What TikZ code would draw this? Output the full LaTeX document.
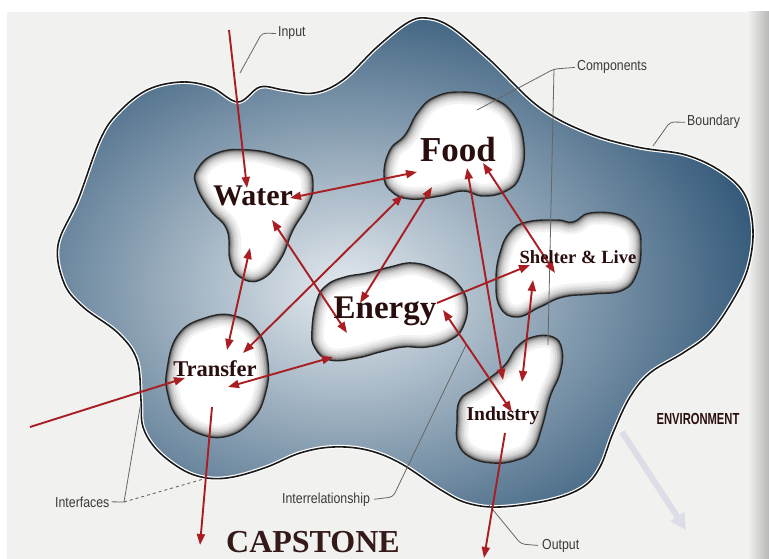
\documentclass[tikz,border=0pt]{standalone}
\usepackage{fontspec}
\setmainfont{Liberation Serif}
\newfontfamily\lblfont[FakeStretch=0.85]{Liberation Sans}
\newfontfamily\envfont[FakeStretch=0.7]{Liberation Sans}
\usetikzlibrary{arrows.meta}
\definecolor{rarrow}{HTML}{A81E22}
\definecolor{bnddark}{HTML}{2C5374}
\definecolor{bndlight}{HTML}{E4EAEF}
\definecolor{pagecol}{HTML}{F1F1EF}
\definecolor{inkdark}{HTML}{2A0E0E}
\definecolor{lblgray}{HTML}{3A3A3A}
\definecolor{leadgray}{HTML}{666666}
\definecolor{faintarrow}{HTML}{DCDDE7}
\tikzset{
  rline/.style={draw=rarrow, line width=1.9pt},
  dlink/.style={rline, {Triangle[length=11pt,width=8pt]}-{Triangle[length=11pt,width=8pt]}},
  slink/.style={rline, -{Triangle[length=11pt,width=8pt]}},
  comp/.style={text=inkdark, anchor=base, inner sep=0pt},
  lbl/.style={font=\lblfont\fontsize{14.5}{16}\selectfont, text=lblgray, anchor=base west, inner sep=0pt},
  lead/.style={draw=leadgray, line width=0.8pt, rounded corners=4pt},
}
\newcommand{\compblob}[1]{%
  \fill[white] plot[smooth cycle, tension=0.75] coordinates {#1};
  \begin{scope}
    \clip plot[smooth cycle, tension=0.75] coordinates {#1};
    \draw[line width=24pt, black!5] plot[smooth cycle, tension=0.75] coordinates {#1};
    \draw[line width=19pt, black!10] plot[smooth cycle, tension=0.75] coordinates {#1};
    \draw[line width=15pt, black!16] plot[smooth cycle, tension=0.75] coordinates {#1};
    \draw[line width=11pt, black!24] plot[smooth cycle, tension=0.75] coordinates {#1};
    \draw[line width=8pt, black!33] plot[smooth cycle, tension=0.75] coordinates {#1};
    \draw[line width=5pt, black!45] plot[smooth cycle, tension=0.75] coordinates {#1};
    \draw[line width=3pt, black!58] plot[smooth cycle, tension=0.75] coordinates {#1};
  \end{scope}
  \draw[line width=1.4pt, black!85] plot[smooth cycle, tension=0.75] coordinates {#1};
}
\newcommand{\bndplot}{plot[smooth cycle, tension=0.6] coordinates {
  (58,245) (78,200) (100,140) (118,113) (147,90) (181,82) (211,87) (238,102)
  (260,87) (284,90) (314,93) (343,80) (377,47) (407,23) (426,18) (451,27)
  (490,60) (539,107) (588,133) (637,147) (686,155) (722,172) (745,195)
  (753,230) (748,268) (733,300) (710,333) (683,353) (650,373) (630,397)
  (613,433) (600,467) (583,487) (550,500) (500,507) (467,503) (441,490)
  (400,463) (367,450) (333,447) (300,453) (267,467) (233,477) (207,478)
  (183,470) (157,450) (143,427) (141,400) (137,360) (118,333) (83,307) (64,283)}}
\begin{document}
\begin{tikzpicture}[x=1pt, y=-1pt]
\useasboundingbox (0,0) rectangle (769,559);
% page
\fill[white] (0,0) rectangle (769,559);
\fill[pagecol] (7,12) rectangle (769,559);
\shade[left color=pagecol, right color=black!28] (748,12) rectangle (769,559);
% faint environment arrow
\coordinate (envA) at (622,432);
\coordinate (envB) at (686,530);
\draw[draw=faintarrow, line width=6pt, -{Triangle[length=16pt,width=16pt]}] (envA) -- (envB);
% boundary
\begin{scope}
  \clip \bndplot;
  \fill[bnddark] (0,0) rectangle (769,559);
  \shade[inner color=bndlight, outer color=bnddark] (345,290) ellipse [x radius=440, y radius=320];
\end{scope}
\draw[white, line width=4pt] \bndplot;
\draw[black!90, line width=1.6pt] \bndplot;
% components
\compblob{(197,170) (217,153) (250,150) (283,157) (307,167) (313,187) (307,207) (293,230) (280,260) (260,280) (240,277) (230,260) (227,230) (210,210) (197,187)}
\compblob{(384,175) (390,150) (405,135) (418,112) (435,97) (462,92) (492,98) (514,115) (524,145) (520,176) (506,191) (483,196) (463,191) (440,196) (410,199) (391,191)}
\compblob{(312,330) (317,300) (327,285) (345,277) (367,273) (390,267) (413,263) (437,270) (457,283) (467,303) (463,327) (450,340) (427,347) (403,347) (380,352) (357,358) (330,360) (315,348)}
\compblob{(496,280) (500,253) (510,232) (527,222) (557,220) (573,222) (590,213) (620,215) (637,227) (641,247) (637,273) (623,290) (593,294) (563,297) (540,307) (517,317) (500,307)}
\compblob{(167,370) (178,335) (205,318) (235,316) (258,332) (268,362) (265,395) (252,420) (228,436) (200,434) (178,418) (168,395)}
\compblob{(457,423) (460,400) (477,387) (503,367) (517,347) (533,337) (553,337) (562,350) (560,373) (550,397) (542,427) (533,450) (517,460) (493,463) (470,457) (458,443)}
% leader lines
\node[lbl] (input) at (278,37) {Input};
\node[lbl] (components) at (577,71) {Components};
\node[lbl] (boundary) at (687,126) {Boundary};
\node[lbl] (interfaces) at (55,507) {Interfaces};
\node[lbl] (interrel) at (282,503) {Interrelationship};
\node[lbl] (output) at (542,549) {Output};
\node[text=inkdark, anchor=base, inner sep=0pt, font=\envfont\bfseries\fontsize{16}{18}\selectfont] (env) at (698,424) {ENVIRONMENT};
\coordinate (inPt) at (240,73);
\coordinate (cJ) at (554,69);
\coordinate (cPt) at (477,110);
\coordinate (cInd) at (548,345);
\coordinate (bPt) at (653,146);
\coordinate (ifJ) at (124,502);
\coordinate (ifA) at (141,402);
\coordinate (ifB) at (207,478);
\coordinate (irPt) at (466,345);
\coordinate (outPt) at (489,505);
\draw[lead] ([xshift=-2pt]input.west) -- (262,33) -- (inPt);
\draw[lead] ([xshift=-2pt]components.west) -- (cJ) -- (cPt);
\draw[draw=leadgray, line width=0.8pt] (cJ) -- (cInd);
\draw[lead] ([xshift=-2pt]boundary.west) -- (670,122) -- (bPt);
\draw[draw=leadgray, line width=0.8pt] ([xshift=2pt]interfaces.east) -- (ifJ) -- (ifA);
\draw[draw=leadgray, line width=0.9pt, dashed] (ifJ) -- (ifB);
\draw[lead] ([xshift=4pt]interrel.east) -- (393,497) -- (irPt);
\draw[lead] ([xshift=-4pt]output.west) -- (521,544) -- (outPt);
% red arrows
\coordinate (inS) at (229,30);   \coordinate (inE) at (247,188);
\coordinate (wfA) at (290,198);  \coordinate (wfB) at (417,172);
\coordinate (wtA) at (250,248);  \coordinate (wtB) at (227,350);
\coordinate (weA) at (272,220);  \coordinate (weB) at (347,333);
\coordinate (tfA) at (243,353);  \coordinate (tfB) at (403,195);
\coordinate (feA) at (432,187);  \coordinate (feB) at (360,303);
\coordinate (fiA) at (467,168);  \coordinate (fiB) at (503,380);
\coordinate (fsA) at (483,163);  \coordinate (fsB) at (555,273);
\coordinate (esA) at (437,303);  \coordinate (esB) at (530,265);
\coordinate (siA) at (533,280);  \coordinate (siB) at (522,382);
\coordinate (eiA) at (443,310);  \coordinate (eiB) at (512,412);
\coordinate (etA) at (333,357);  \coordinate (etB) at (228,387);
\coordinate (ltA) at (30,427);   \coordinate (ltB) at (185,378);
\coordinate (tdA) at (212,407);  \coordinate (tdB) at (200,545);
\coordinate (idA) at (505,433);  \coordinate (idB) at (484,558);
\draw[slink] (inS) -- (inE);
\draw[dlink] (wfA) -- (wfB);
\draw[dlink] (wtA) -- (wtB);
\draw[dlink] (weA) -- (weB);
\draw[dlink] (tfA) -- (tfB);
\draw[dlink] (feA) -- (feB);
\draw[dlink] (fiA) -- (fiB);
\draw[dlink] (fsA) -- (fsB);
\draw[slink] (esA) -- (esB);
\draw[dlink] (siA) -- (siB);
\draw[dlink] (eiA) -- (eiB);
\draw[dlink] (etA) -- (etB);
\draw[slink] (ltA) -- (ltB);
\draw[slink] (tdA) -- (tdB);
\draw[slink] (idA) -- (idB);
% component labels
\node[comp, font=\bfseries\fontsize{35}{40}\selectfont] (food) at (458,162) {Food};
\node[comp, font=\bfseries\fontsize{30}{34}\selectfont] (water) at (253,205) {Water};
\node[comp, font=\bfseries\fontsize{33}{38}\selectfont] (energy) at (385,318) {Energy};
\node[comp, font=\bfseries\fontsize{22.5}{26}\selectfont] (transfer) at (215,376) {Transfer};
\node[comp, font=\bfseries\fontsize{19.6}{23}\selectfont] (industry) at (503,420) {Industry};
\node[comp, font=\bfseries\fontsize{18.6}{22}\selectfont] (shelter) at (578,263) {Shelter \& Live};
\node[comp, text=inkdark!95, font=\bfseries\fontsize{32}{36}\selectfont] (capstone) at (313,552) {CAPSTONE};
\end{tikzpicture}
\end{document}
